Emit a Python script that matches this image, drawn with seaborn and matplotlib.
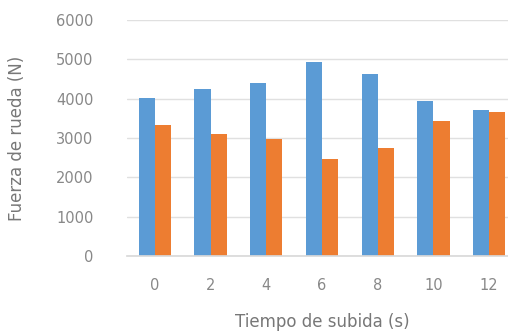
import matplotlib
matplotlib.use("Agg")
import matplotlib.pyplot as plt
import seaborn as sns
import pandas as pd

categories = ["0", "2", "4", "6", "8", "10", "12"]
serie_a = [4010, 4240, 4390, 4920, 4620, 3930, 3710]
serie_b = [3330, 3100, 2970, 2460, 2740, 3420, 3650]
y_ticks = [0, 1000, 2000, 3000, 4000, 5000, 6000]

df = pd.DataFrame({
    "cat": categories * 2,
    "val": serie_a + serie_b,
    "serie": ["A"] * len(categories) + ["B"] * len(categories),
})

sns.set_theme(style="white")
plt.rcParams["font.family"] = ["DejaVu Sans"]

fig = plt.figure(figsize=(5.08, 3.34), dpi=100)
ax = fig.add_axes([127 / 508, 1 - 256 / 334, 390 / 508, 236 / 334])

sns.barplot(data=df, x="cat", y="val", hue="serie", order=categories,
            palette=["#5B9BD5", "#ED7D31"], width=0.58, ax=ax,
            legend=False, saturation=1, linewidth=0, edgecolor="none")

ax.set_ylim(0, 6000)
ax.set_yticks(y_ticks)
ax.set_yticklabels([str(v) for v in y_ticks], color="#888888", fontsize=10.5)
ax.tick_params(axis="x", colors="#888888", labelsize=10.5, length=0, pad=16)
ax.tick_params(axis="y", length=0, pad=24)
ax.yaxis.grid(True, color="#E0E0E0", linewidth=1)
ax.set_axisbelow(True)
for s in ["top", "right", "left"]:
    ax.spines[s].set_visible(False)
ax.spines["bottom"].set_color("#D9D9D9")
ax.set_xlabel("Tiempo de subida (s)", color="#777777", fontsize=12, labelpad=14)
ax.set_ylabel("Fuerza de rueda (N)", color="#777777", fontsize=12, labelpad=22)

fig.savefig("out.png", dpi=100)
